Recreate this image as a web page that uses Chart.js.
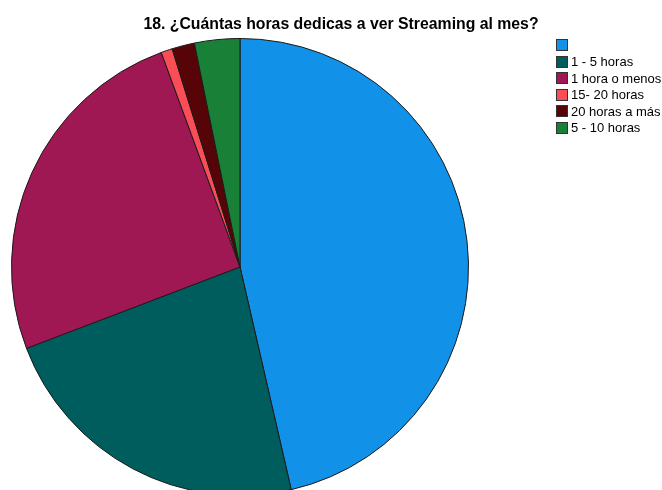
<!DOCTYPE html>
<html>
<head>
<meta charset="utf-8">
<script src="https://cdn.jsdelivr.net/npm/chart.js@4"></script>
<style>
  html, body { margin: 0; padding: 0; background: #fff; overflow: hidden; }
  #wrap { position: relative; width: 662px; height: 500px; }
  #legend { position: absolute; left: 556px; top: 37px; font: 13px "Liberation Sans", Arial, sans-serif; color: #000; }
  #legend .row { display: flex; align-items: center; height: 16.5px; white-space: nowrap; }
  #legend .box { width: 12px; height: 12px; box-sizing: border-box; border: 1px solid #333; margin-right: 3px; }
</style>
</head>
<body>
<div id="wrap">
  <canvas id="myChart"></canvas>
  <div id="legend"></div>
</div>
<script>
const TITLE = '18. ¿Cuántas horas dedicas a ver Streaming al mes?'
const categories = ['', '1 - 5 horas', '1 hora o menos', '15- 20 horas', '20 horas a más', '5 - 10 horas']
const percents = [46.4, 22.8, 25.2, 0.8, 1.6, 3.2]
const colors = ['#1192e8', '#005d5d', '#9f1853', '#fa4d56', '#570408', '#198038']

var ctx = document.getElementById('myChart').getContext('2d');

// title spans the whole canvas, not just the padded pie area
const wideTitle = {
    id: 'wideTitle',
    afterLayout(chart) {
        const t = chart.titleBlock
        if (!t) return
        t.left = 20
        t.right = chart.width
        t.width = t.right - t.left
    }
}

new Chart(ctx, {
    type: 'pie',
    data: {
        labels: categories,
        datasets: [{
            data: percents,
            backgroundColor: colors,
            borderColor: '#1a1a1a',
            borderWidth: 1
        }]
    },
    options: {
        responsive: true,
        maintainAspectRatio: false,
        animation: false,
        layout: {
            padding: { left: 11, right: 193, top: 0, bottom: 4 }
        },
        plugins: {
            legend: { display: false },
            tooltip: { enabled: false },
            title: {
                display: true,
                text: TITLE,
                color: '#000',
                font: { family: '"Liberation Sans", Arial', size: 15.8, weight: 'bold' },
                padding: { top: 15.5, bottom: 3.5 }
            }
        }
    },
    plugins: [wideTitle]
});

// legend beside the pie
const legend = document.getElementById('legend')
categories.forEach((name, i) => {
    const row = document.createElement('div')
    row.className = 'row'
    const box = document.createElement('span')
    box.className = 'box'
    box.style.background = colors[i]
    const txt = document.createElement('span')
    txt.textContent = name
    row.appendChild(box)
    row.appendChild(txt)
    legend.appendChild(row)
})
</script>
</body>
</html>
